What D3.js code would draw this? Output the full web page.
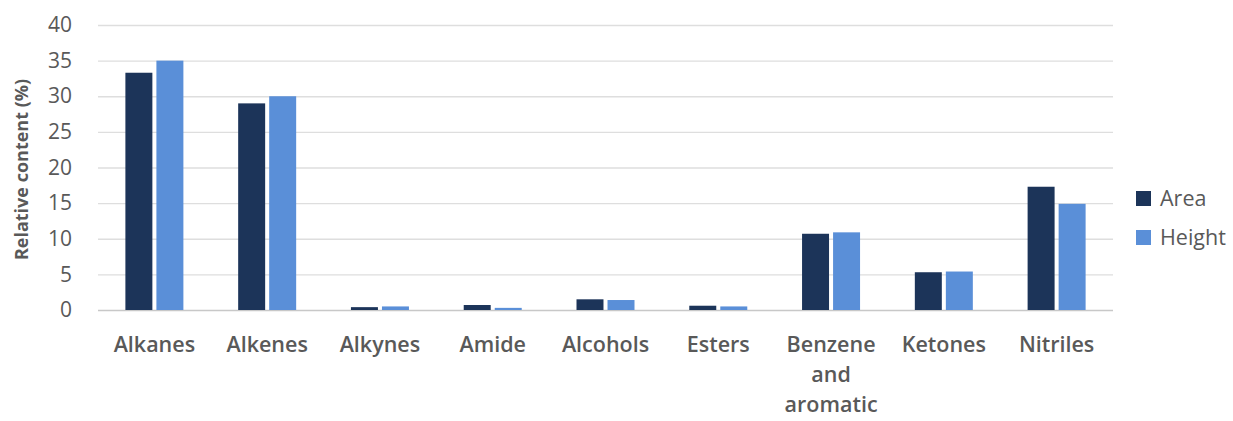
<!DOCTYPE html>
<html>
<head>
<meta charset="utf-8">
<script src="https://cdn.jsdelivr.net/npm/d3@7"></script>
<style>
  body { margin: 0; background: #fff; }
  text { font-family: "Open Sans", sans-serif; fill: #595959; }
</style>
</head>
<body>
<div id="viz"></div>
<script>
const categories = ['Alkanes', 'Alkenes', 'Alkynes', 'Amide', 'Alcohols', 'Esters', 'Benzene and aromatic', 'Ketones', 'Nitriles'];
const areaValues = [33.3, 29.0, 0.4, 0.7, 1.5, 0.6, 10.7, 5.3, 17.3];
const heightValues = [35.0, 30.0, 0.5, 0.3, 1.4, 0.5, 10.9, 5.4, 14.9];
const seriesNames = ['Area', 'Height'];
const yTicks = [0, 5, 10, 15, 20, 25, 30, 35, 40];

const width = 1233;
const height = 421;
const colors = { Area: '#1c3459', Height: '#5a8fd8' };

const svg = d3.select('#viz')
  .append('svg')
  .attr('width', width)
  .attr('height', height);

const x = d3.scaleBand()
  .domain(categories)
  .range([98, 1113]);

const x1 = d3.scaleBand()
  .domain(seriesNames)
  .range([x.bandwidth() / 2 - 29, x.bandwidth() / 2 + 29])
  .paddingInner(0.13);

const y = d3.scaleLinear()
  .domain([0, 40])
  .range([310, 25]);

// gridlines
svg.append('g')
  .selectAll('line')
  .data(yTicks)
  .join('line')
  .attr('x1', x.range()[0])
  .attr('x2', x.range()[1])
  .attr('y1', d => y(d) + 0.5)
  .attr('y2', d => y(d) + 0.5)
  .attr('stroke', d => d === 0 ? '#c8c8c8' : '#dedede')
  .attr('stroke-width', 1.3);

// y axis labels
const yAxis = d3.axisLeft(y).tickValues(yTicks).tickSize(0).tickPadding(26);
svg.append('g')
  .attr('transform', `translate(${x.range()[0]},0)`)
  .call(yAxis)
  .call(g => g.select('.domain').remove())
  .call(g => g.selectAll('text')
    .style('font-size', '21px')
    .attr('fill', '#595959'));

svg.append('text')
  .attr('transform', `translate(28,${y(20) + 2}) rotate(-90)`)
  .attr('text-anchor', 'middle')
  .style('font-size', '18px')
  .style('font-weight', 'bold')
  .text('Relative content (%)');

// bars
const rows = categories.map((c, i) => ({ category: c, Area: areaValues[i], Height: heightValues[i] }));
const groups = svg.append('g')
  .selectAll('g')
  .data(rows)
  .join('g')
  .attr('transform', d => `translate(${x(d.category)},0)`);

groups.selectAll('rect')
  .data(d => seriesNames.map(s => ({ key: s, value: d[s] })))
  .join('rect')
  .attr('x', d => x1(d.key))
  .attr('width', x1.bandwidth())
  .attr('y', d => y(d.value))
  .attr('height', d => y(0) - y(d.value))
  .attr('fill', d => colors[d.key]);

// x labels
const xLabels = svg.append('g')
  .selectAll('text')
  .data(categories)
  .join('text')
  .attr('x', d => x(d) + x.bandwidth() / 2)
  .attr('y', 352)
  .attr('text-anchor', 'middle')
  .style('font-size', '21.5px')
  .style('font-weight', '600');

xLabels.each(function(d) {
  const words = d === 'Benzene and aromatic' ? ['Benzene', 'and', 'aromatic'] : [d];
  d3.select(this).selectAll('tspan')
    .data(words)
    .join('tspan')
    .attr('x', x(d) + x.bandwidth() / 2)
    .attr('dy', (w, i) => i === 0 ? 0 : 30)
    .text(w => w);
});

// legend
const legend = svg.append('g')
  .selectAll('g')
  .data(seriesNames)
  .join('g')
  .attr('transform', (d, i) => `translate(1136,${199 + i * 39})`);

legend.append('rect')
  .attr('x', 0)
  .attr('y', -8)
  .attr('width', 15)
  .attr('height', 15)
  .attr('fill', d => colors[d]);

legend.append('text')
  .attr('x', 24)
  .attr('y', 7)
  .style('font-size', '21.5px')
  .text(d => d);
</script>
</body>
</html>
